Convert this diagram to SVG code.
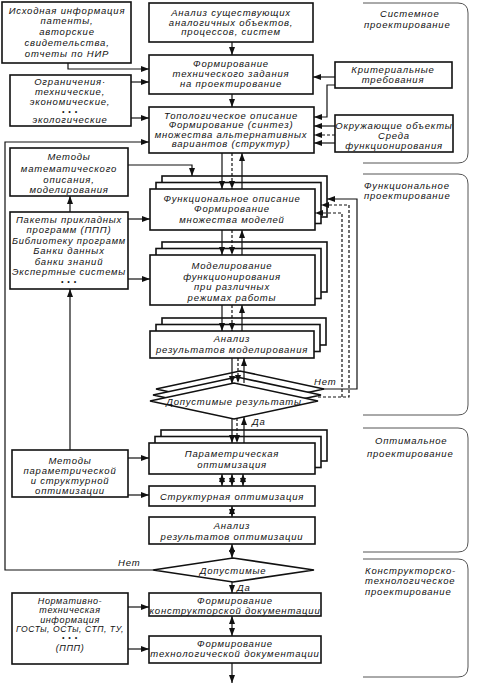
<svg xmlns="http://www.w3.org/2000/svg" width="489" height="690" viewBox="0 0 489 690">
<defs>
<style>
.b{fill:#fff;stroke:#111;stroke-width:1.6}
.t{font-family:"Liberation Sans","DejaVu Sans",sans-serif;font-style:italic;font-size:9.5px;letter-spacing:0.8px;fill:#111;text-anchor:middle}
.sm{font-size:9px;letter-spacing:0.6px}
.dots{font-size:7px;letter-spacing:1px}
.l{text-anchor:start}
.c{fill:none;stroke:#111;stroke-width:1.2}
.d{stroke-dasharray:3 2}
.s{fill:none;stroke:#555;stroke-width:1}
</style>
<marker id="a" markerWidth="8" markerHeight="6" refX="8" refY="3" orient="auto" markerUnits="userSpaceOnUse"><path d="M0,0 L8,3 L0,6 z" fill="#111"/></marker>
<marker id="as" markerWidth="8" markerHeight="6" refX="0" refY="3" orient="auto" markerUnits="userSpaceOnUse"><path d="M8,0 L0,3 L8,6 z" fill="#111"/></marker>
</defs>
<rect width="489" height="690" fill="#fff"/>

<g id="sections">
<path class="s" d="M363,3 H458 Q468,3 468,13 V153 Q468,163 458,163 H363"/>
<path class="s" d="M363,174 H458 Q468,174 468,184 V405 Q468,415 458,415 H363"/>
<path class="s" d="M363,428 H458 Q468,428 468,438 V542 Q468,552 458,552 H363"/>
<path class="s" d="M363,559 H458 Q468,559 468,569 V667 Q468,677 458,677 H363"/>
<text class="t l" x="380" y="16.5">Системное</text>
<text class="t l" x="364" y="27.5">проектирование</text>
<text class="t l" x="364" y="188.5">Функциональное</text>
<text class="t l" x="364" y="198.5">проектирование</text>
<text class="t l" x="375" y="443.5">Оптимальное</text>
<text class="t l" x="367" y="456.5">проектирование</text>
<text class="t l" x="365" y="573.5">Конструкторско-</text>
<text class="t l" x="365" y="584">технологическое</text>
<text class="t l" x="365" y="594.5">проектирование</text>
</g>

<g id="n-ishodnaya">
<rect class="b" x="2" y="2" width="129" height="61"/>
<text class="t" x="67" y="13.5">Исходная информация</text>
<text class="t" x="67" y="24">патенты,</text>
<text class="t" x="67" y="35">авторские</text>
<text class="t" x="67" y="45.5">свидетельства,</text>
<text class="t" x="67" y="56.5">отчеты по НИР</text>
</g>

<g id="n-analiz-sush">
<rect class="b" x="149" y="3" width="164" height="39"/>
<text class="t" x="231" y="15.5">Анализ существующих</text>
<text class="t" x="231" y="25.5">аналогичных объектов,</text>
<text class="t" x="231" y="35">процессов, систем</text>
</g>

<g id="n-tz">
<rect class="b" x="149" y="55" width="164" height="39"/>
<text class="t" x="231" y="66.5">Формирование</text>
<text class="t" x="231" y="76.5">технического задания</text>
<text class="t" x="231" y="86.5">на проектирование</text>
</g>

<g id="n-ogranicheniya">
<rect class="b" x="10" y="75" width="121" height="51"/>
<text class="t" x="70" y="84.5">Ограничения·</text>
<text class="t" x="70" y="95">технические,</text>
<text class="t" x="70" y="105">экономические,</text>
<text class="t dots" x="70" y="113.5">• • •</text>
<text class="t" x="70" y="123">экологические</text>
</g>

<g id="n-kriterii">
<rect class="b" x="335" y="62" width="117" height="26"/>
<text class="t" x="393" y="73">Критериальные</text>
<text class="t" x="393" y="83">требования</text>
</g>

<g id="n-topologiya">
<rect class="b" x="149" y="107" width="165" height="46"/>
<text class="t" x="231" y="118.5">Топологическое описание</text>
<text class="t" x="231" y="128">Формирование (синтез)</text>
<text class="t" x="231" y="137.5">множества альтернативных</text>
<text class="t" x="231" y="147">вариантов (структур)</text>
</g>

<g id="n-okruzh">
<rect class="b" x="335" y="115" width="118" height="37"/>
<text class="t" x="394" y="128.5">Окружающие объекты</text>
<text class="t" x="394" y="138.5">Среда</text>
<text class="t" x="394" y="148.5">функционирования</text>
</g>

<g id="n-metody-mat">
<rect class="b" x="10" y="148" width="118" height="48"/>
<text class="t" x="69" y="160">Методы</text>
<text class="t" x="69" y="171.5">математического</text>
<text class="t" x="69" y="182.5">описания,</text>
<text class="t" x="69" y="193">моделирования</text>
</g>

<g id="n-pakety">
<rect class="b" x="10" y="212" width="118" height="77"/>
<text class="t" x="69" y="222.5">Пакеты прикладных</text>
<text class="t" x="69" y="233">программ (ППП)</text>
<text class="t" x="69" y="243.5" textLength="114" lengthAdjust="spacingAndGlyphs">Библиотеку программ</text>
<text class="t" x="69" y="254">Банки данных</text>
<text class="t" x="69" y="264.5">банки знаний</text>
<text class="t" x="69" y="275" textLength="114" lengthAdjust="spacingAndGlyphs">Экспертные системы</text>
<text class="t dots" x="69" y="284">• • •</text>
</g>

<g id="n-funkc">
<rect class="b" x="162" y="176" width="165" height="41"/>
<rect class="b" x="156" y="182.5" width="165" height="41"/>
<rect class="b" x="150" y="189" width="165" height="41"/>
<text class="t" x="232" y="201.5">Функциональное описание</text>
<text class="t" x="232" y="211.5">Формирование</text>
<text class="t" x="232" y="223">множества моделей</text>
</g>

<g id="n-modelir">
<rect class="b" x="162" y="242" width="165" height="50"/>
<rect class="b" x="156" y="248.5" width="165" height="50"/>
<rect class="b" x="150" y="255" width="165" height="50"/>
<text class="t" x="232" y="268.5">Моделирование</text>
<text class="t" x="232" y="279.5">функционирования</text>
<text class="t" x="232" y="290">при различных</text>
<text class="t" x="232" y="300.5">режимах работы</text>
</g>

<g id="n-analiz-model">
<rect class="b" x="162" y="318" width="164" height="27"/>
<rect class="b" x="156" y="324.5" width="164" height="27"/>
<rect class="b" x="150" y="331" width="164" height="27"/>
<text class="t" x="232" y="341.5">Анализ</text>
<text class="t" x="232" y="353">результатов моделирования</text>
</g>

<g id="n-dop-rez">
<polygon class="b" points="156,389 240,371 324,389 240,407"/>
<polygon class="b" points="153,395 237,377 321,395 237,413"/>
<polygon class="b" points="150,401 234,383 318,401 234,419"/>
<text class="t" x="234" y="404.5">Допустимые результаты</text>
</g>

<g id="n-metody-par">
<rect class="b" x="12" y="450" width="116" height="47"/>
<text class="t" x="70" y="463.5">Методы</text>
<text class="t" x="70" y="474">параметрической</text>
<text class="t" x="70" y="484">и структурной</text>
<text class="t" x="70" y="494">оптимизации</text>
</g>

<g id="n-param">
<rect class="b" x="161" y="430" width="166" height="31"/>
<rect class="b" x="155" y="436.5" width="166" height="31"/>
<rect class="b" x="149" y="443" width="166" height="31"/>
<text class="t" x="232" y="456.5">Параметрическая</text>
<text class="t" x="232" y="468">оптимизация</text>
</g>

<g id="n-struct">
<rect class="b" x="149" y="486" width="166" height="20"/>
<text class="t" x="232" y="499.5">Структурная оптимизация</text>
</g>

<g id="n-analiz-opt">
<rect class="b" x="149" y="517" width="166" height="27"/>
<text class="t" x="232" y="529">Анализ</text>
<text class="t" x="232" y="540">результатов оптимизации</text>
</g>

<g id="n-dop">
<polygon class="b" points="153,570 233,558 314,570 233,582"/>
<text class="t" x="233" y="573.5">Допустимые</text>
</g>

<g id="n-normativ">
<rect class="b" x="12" y="593" width="116" height="71"/>
<text class="t sm" x="70" y="603.5">Нормативно-</text>
<text class="t sm" x="70" y="613">техническая</text>
<text class="t sm" x="70" y="622.5">информация</text>
<text class="t sm" x="70" y="632" textLength="108" lengthAdjust="spacingAndGlyphs">ГОСТы, ОСТы, СТП, ТУ,</text>
<text class="t dots" x="70" y="640">• • •</text>
<text class="t sm" x="70" y="650.5">(ППП)</text>
</g>

<g id="n-konstr">
<rect class="b" x="149" y="593" width="172" height="23"/>
<text class="t" x="235" y="603.5">Формирование</text>
<text class="t" x="235" y="613.5">конструкторской документации</text>
</g>

<g id="n-tehnol">
<rect class="b" x="149" y="636" width="172" height="27"/>
<text class="t" x="235" y="646.5">Формирование</text>
<text class="t" x="235" y="657">технологической документации</text>
</g>

<g id="connectors">
<polyline class="c" points="68,63 68,69 149,69" marker-end="url(#a)"/>
<line class="c" x1="131" y1="82" x2="149" y2="82" marker-end="url(#a)"/>
<line class="c" x1="131" y1="118" x2="149" y2="118" marker-end="url(#a)"/>
<line class="c" x1="232" y1="42" x2="232" y2="55" marker-end="url(#a)"/>
<line class="c" x1="232" y1="94" x2="232" y2="107" marker-end="url(#a)"/>
<line class="c" x1="335" y1="77" x2="313" y2="77" marker-end="url(#a)"/>
<polyline class="c" points="335,85 327,85 327,117 314,117" marker-end="url(#a)"/>
<line class="c" x1="335" y1="126" x2="314" y2="126" marker-end="url(#a)"/>
<line class="c d" x1="335" y1="135" x2="314" y2="135" marker-end="url(#a)"/>
<line class="c" x1="335" y1="143" x2="314" y2="143" marker-end="url(#a)"/>
<polyline class="c" points="153,570 5,570 5,142 149,142" marker-end="url(#a)"/>
<polyline class="c" points="128,165 192,165 192,176" marker-end="url(#a)"/>
<line class="c" x1="70" y1="212" x2="70" y2="196" marker-end="url(#a)"/>
<line class="c" x1="128" y1="219" x2="150" y2="219" marker-end="url(#a)"/>
<line class="c" x1="128" y1="279" x2="150" y2="279" marker-end="url(#a)"/>
<line class="c" x1="70" y1="450" x2="70" y2="289" marker-end="url(#a)"/>
<line class="c" x1="128" y1="458" x2="149" y2="458" marker-end="url(#a)"/>
<line class="c" x1="128" y1="495" x2="149" y2="495" marker-end="url(#a)"/>
<line class="c" x1="128" y1="607" x2="149" y2="607" marker-end="url(#a)"/>
<line class="c" x1="128" y1="649" x2="149" y2="649" marker-end="url(#a)"/>

<line class="c" x1="222" y1="153" x2="222" y2="189" marker-end="url(#a)"/>
<line class="c d" x1="232" y1="153" x2="232" y2="189" marker-end="url(#a)"/>
<line class="c" x1="242" y1="189" x2="242" y2="153" marker-end="url(#a)"/>
<line class="c" x1="222" y1="230" x2="222" y2="255" marker-end="url(#a)"/>
<line class="c d" x1="232" y1="230" x2="232" y2="255" marker-end="url(#a)"/>
<line class="c" x1="242" y1="255" x2="242" y2="230" marker-end="url(#a)"/>
<line class="c" x1="222" y1="305" x2="222" y2="331" marker-end="url(#a)"/>
<line class="c d" x1="232" y1="305" x2="232" y2="331" marker-end="url(#a)"/>
<line class="c" x1="242" y1="331" x2="242" y2="305" marker-end="url(#a)"/>
<line class="c" x1="232" y1="358" x2="232" y2="384" marker-end="url(#a)"/>
<line class="c d" x1="238" y1="358" x2="238" y2="383" marker-end="url(#a)"/>
<line class="c" x1="244" y1="383" x2="244" y2="358" marker-end="url(#a)"/>
<line class="c" x1="232" y1="419" x2="232" y2="443" marker-end="url(#a)"/>
<line class="c d" x1="237" y1="418" x2="237" y2="443" marker-end="url(#a)"/>
<line class="c" x1="244" y1="443" x2="244" y2="417" marker-end="url(#a)"/>
<line class="c" x1="222" y1="474" x2="222" y2="486" marker-start="url(#as)" marker-end="url(#a)"/>
<line class="c" x1="232" y1="474" x2="232" y2="486" marker-start="url(#as)" marker-end="url(#a)"/>
<line class="c" x1="243" y1="474" x2="243" y2="486" marker-start="url(#as)" marker-end="url(#a)"/>
<line class="c" x1="232" y1="506" x2="232" y2="517" marker-start="url(#as)" marker-end="url(#a)"/>
<line class="c" x1="232" y1="544" x2="232" y2="558" marker-start="url(#as)" marker-end="url(#a)"/>
<line class="c" x1="232" y1="582" x2="232" y2="593" marker-end="url(#a)"/>
<line class="c" x1="232" y1="616" x2="232" y2="636" marker-start="url(#as)" marker-end="url(#a)"/>
<line class="c" x1="232" y1="663" x2="232" y2="683" marker-end="url(#a)"/>

<polyline class="c" points="321,389 357,389 357,199 327,199" marker-end="url(#a)"/>
<polyline class="c d" points="318,397 349,397 349,205 321,205" marker-end="url(#a)"/>
<polyline class="c d" points="342,397 342,213 315,213" marker-end="url(#a)"/>

<text class="t l" x="314" y="384.5">Нет</text>
<text class="t l" x="252" y="425">Да</text>
<text class="t l" x="118" y="566">Нет</text>
<text class="t l" x="237" y="590.5">Да</text>
</g>
</svg>
